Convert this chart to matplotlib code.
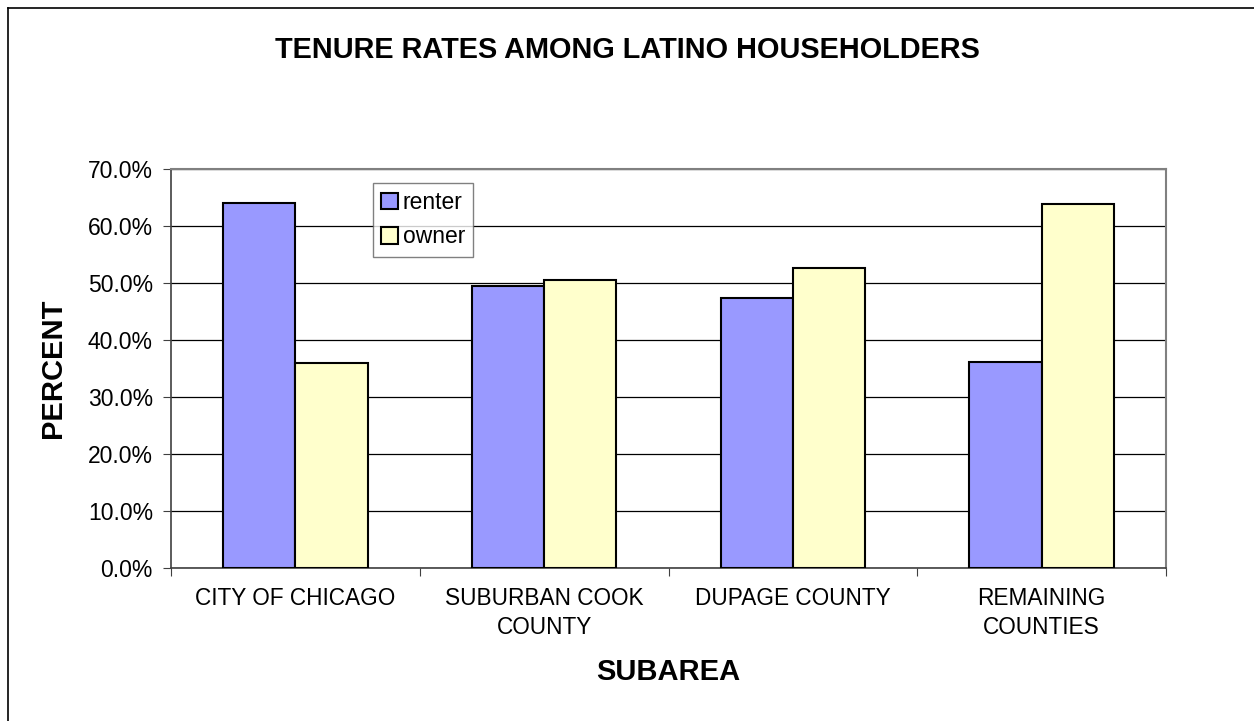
import numpy as np
import matplotlib.pyplot as plt
from matplotlib.lines import Line2D
from matplotlib.ticker import FuncFormatter

plt.rcParams['font.family'] = ['Liberation Sans', 'DejaVu Sans']

subareas = ["CITY OF CHICAGO", "SUBURBAN COOK\nCOUNTY", "DUPAGE COUNTY", "REMAINING\nCOUNTIES"]
renter = [64.0, 49.5, 47.4, 36.1]
owner = [36.0, 50.5, 52.6, 63.9]

fig = plt.figure(figsize=(12.54, 7.21), dpi=100)
ax = fig.add_axes([171 / 1254, 1 - 568 / 721, 995 / 1254, 399 / 721])

x = np.arange(len(subareas))
w = 0.29
ax.bar(x - w / 2, renter, w, color="#9999ff", edgecolor="black", linewidth=1.5, label="renter", zorder=3)
ax.bar(x + w / 2, owner, w, color="#ffffcc", edgecolor="black", linewidth=1.5, label="owner", zorder=3)

ax.set_xlim(-0.5, len(subareas) - 0.5)
ax.set_ylim(0, 70)
ax.set_yticks(np.arange(0, 71, 10))
ax.yaxis.set_major_formatter(FuncFormatter(lambda v, p: f"{v:.1f}%"))
ax.yaxis.grid(True, color="black", linewidth=0.9, zorder=0)

# category boundary ticks on x
ax.set_xticks(np.arange(-0.5, len(subareas), 1.0))
ax.set_xticklabels([])
ax.set_xticks(x, minor=True)
ax.set_xticklabels(subareas, minor=True, fontsize=16.3, linespacing=1.35)
ax.tick_params(axis="x", which="minor", length=0, pad=13.5)
ax.tick_params(axis="x", which="major", length=6, direction="out", color="#404040")
ax.tick_params(axis="y", length=6, direction="out", color="#404040", labelsize=16.5, pad=7)

for s in ["top", "right"]:
    ax.spines[s].set_color("#808080")
    ax.spines[s].set_linewidth(1.5)
for s in ["left", "bottom"]:
    ax.spines[s].set_color("#404040")
    ax.spines[s].set_linewidth(1.2)

ax.set_xlabel("SUBAREA", fontsize=21, fontweight="bold", labelpad=14)
ax.set_ylabel("PERCENT", fontsize=21, fontweight="bold", labelpad=15)

fig.text(0.5, 1 - 50 / 721, "TENURE RATES AMONG LATINO HOUSEHOLDERS",
         ha="center", va="center", fontsize=20.8, fontweight="bold")

leg = ax.legend(loc="upper left", bbox_to_anchor=((373 - 171) / 995, (568 - 183) / 399),
                fontsize=16.5, frameon=True, fancybox=False, handlelength=0.75, handleheight=0.75,
                handletextpad=0.2, borderpad=0.35, labelspacing=0.5, borderaxespad=0)
leg.get_frame().set_edgecolor("#606060")
leg.get_frame().set_linewidth(1.0)

# outer frame (left and top edges visible)
fig.add_artist(Line2D([8 / 1254, 8 / 1254], [0, 1 - 8 / 721], color="black", linewidth=1.2))
fig.add_artist(Line2D([8 / 1254, 1], [1 - 8 / 721, 1 - 8 / 721], color="black", linewidth=1.2))

fig.savefig("out.png", dpi=100)
